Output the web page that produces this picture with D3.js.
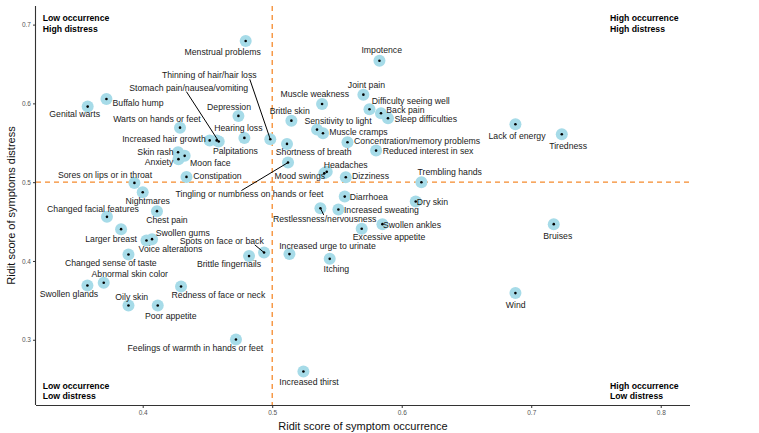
<!DOCTYPE html>
<html>
<head>
<meta charset="utf-8">
<script src="https://cdn.jsdelivr.net/npm/d3@7"></script>
<style>
  body { margin: 0; background: #fff; }
  svg { font-family: "Liberation Sans", Arial, sans-serif; }
</style>
</head>
<body>
<svg id="chart" width="759" height="433"></svg>
<script>
// symptom names, ridit occurrence (x) and ridit distress (y)
const symptoms = [
  "Menstrual problems", "Genital warts", "Buffalo hump", "Warts on hands or feet", "Depression",
  "Hearing loss", "Increased hair growth", "Stomach pain/nausea/vomiting", "Palpitations", "Thinning of hair/hair loss",
  "Skin rash", "Moon face", "Anxiety", "Constipation", "Sores on lips or in throat",
  "Nightmares", "Changed facial features", "Chest pain", "Larger breast", "Swollen gums",
  "Voice alterations", "Changed sense of taste", "Spots on face or back", "Brittle fingernails", "Abnormal skin color",
  "Swollen glands", "Redness of face or neck", "Oily skin", "Poor appetite", "Feelings of warmth in hands or feet",
  "Increased thirst", "Impotence", "Joint pain", "Muscle weakness", "Difficulty seeing well",
  "Back pain", "Sleep difficulties", "Brittle skin", "Sensitivity to light", "Muscle cramps",
  "Concentration/memory problems", "Reduced interest in sex", "Shortness of breath", "Tingling or numbness on hands or feet", "Mood swings",
  "Headaches", "Dizziness", "Trembling hands", "Diarrhoea", "Dry skin",
  "Restlessness/nervousness", "Increased sweating", "Swollen ankles", "Excessive appetite", "Increased urge to urinate",
  "Itching", "Lack of energy", "Tiredness", "Bruises", "Wind"
];
const occurrence = [
  0.4795, 0.3575, 0.372, 0.4288, 0.4739,
  0.4785, 0.4517, 0.4587, 0.4571, 0.4985,
  0.4273, 0.4324, 0.4276, 0.4338, 0.3936,
  0.400, 0.3724, 0.411, 0.3833, 0.4072,
  0.4029, 0.389, 0.4937, 0.4821, 0.3699,
  0.3573, 0.4296, 0.389, 0.4116, 0.472,
  0.5241, 0.5828, 0.5704, 0.5385, 0.5751,
  0.584, 0.5894, 0.5148, 0.5346, 0.5392,
  0.5581, 0.5802, 0.5114, 0.5122, 0.5402,
  0.5421, 0.5568, 0.6152, 0.556, 0.6108,
  0.5372, 0.5511, 0.5851, 0.5691, 0.5133,
  0.5444, 0.6878, 0.7236, 0.7174, 0.6878
];
const distress = [
  0.6792, 0.5959, 0.6056, 0.5692, 0.5841,
  0.5562, 0.553, 0.5517, 0.553, 0.5545,
  0.538, 0.5334, 0.5292, 0.5067, 0.4991,
  0.4873, 0.456, 0.4632, 0.4404, 0.4277,
  0.4259, 0.4082, 0.4107, 0.4062, 0.3723,
  0.3689, 0.3676, 0.3435, 0.3435, 0.3004,
  0.2598, 0.6542, 0.6111, 0.5993, 0.5926,
  0.5875, 0.5812, 0.5781, 0.5667, 0.5621,
  0.5507, 0.5401, 0.5486, 0.5249, 0.5112,
  0.5131, 0.5063, 0.500, 0.4817, 0.4754,
  0.467, 0.4653, 0.4467, 0.4408, 0.4087,
  0.4027, 0.5736, 0.5609, 0.4467, 0.3592
];
const xTicks = [0.4, 0.5, 0.6, 0.7, 0.8];
const yTicks = [0.3, 0.4, 0.5, 0.6, 0.7];
const cutoff = 0.5;

// label placement (pixel offsets from the point, like ggrepel did)
const labelOffset = {
  "Menstrual problems": [-23, 11], "Genital warts": [-13, 7.5], "Buffalo hump": [31.6, 4],
  "Warts on hands or feet": [-23, -8.7], "Depression": [-9.4, -9], "Hearing loss": [-6, -10],
  "Increased hair growth": [-45.7, -1], "Stomach pain/nausea/vomiting": [-30, -53],
  "Palpitations": [18.7, 11], "Thinning of hair/hair loss": [-61, -64.6],
  "Skin rash": [-22.6, 0], "Moon face": [25.7, 6.7], "Anxiety": [-19.4, 2.4],
  "Constipation": [31, -0.7], "Sores on lips or in throat": [-29.4, -8.3], "Nightmares": [5, 9],
  "Changed facial features": [-14, -8.3], "Chest pain": [10, 8.7], "Larger breast": [-10, 9.4],
  "Swollen gums": [30.7, -6.3], "Voice alterations": [24, 8.6], "Changed sense of taste": [-17.7, 8.6],
  "Spots on face or back": [-42.3, -11.4], "Brittle fingernails": [-20, 7.4],
  "Abnormal skin color": [26, -8.7], "Swollen glands": [-18.4, 8.6], "Redness of face or neck": [37.4, 8.6],
  "Oily skin": [3.3, -9], "Poor appetite": [13, 10], "Feelings of warmth in hands or feet": [-40.6, 8.3],
  "Increased thirst": [5.6, 11], "Impotence": [2.3, -10.4], "Joint pain": [3, -9.4],
  "Muscle weakness": [-7.3, -10.3], "Difficulty seeing well": [41.3, -8.4], "Back pain": [24.4, -3.6],
  "Sleep difficulties": [37.7, 0.7], "Brittle skin": [-1.7, -10], "Sensitivity to light": [21, -9],
  "Muscle cramps": [35.4, -1.6], "Concentration/memory problems": [69.6, -1.6],
  "Reduced interest in sex": [52, 0.6], "Shortness of breath": [26.7, 8],
  "Tingling or numbness on hands or feet": [-38.5, 31], "Mood swings": [-24.5, 3],
  "Headaches": [19, -7], "Dizziness": [24.7, -1.6], "Trembling hands": [28.3, -10.3],
  "Diarrhoea": [24, 0], "Dry skin": [16.7, 0], "Restlessness/nervousness": [4.3, 10.7],
  "Increased sweating": [43, 0.7], "Swollen ankles": [29.6, 0.4], "Excessive appetite": [27.3, 8],
  "Increased urge to urinate": [38, -8.3], "Itching": [6.7, 9.7], "Lack of energy": [1.6, 11.4],
  "Tiredness": [6.3, 11.4], "Bruises": [4, 11.4], "Wind": [0.3, 11.4]
};
// leader lines: label-side end, offset from the point
const segmentEnd = {
  "Stomach pain/nausea/vomiting": [-32.3, -49.8],
  "Thinning of hair/hair loss": [-20.5, -60],
  "Spots on face or back": [-9.3, -7.7],
  "Tingling or numbness on hands or feet": [-46.6, 28],
  "Restlessness/nervousness": [3.3, 6.7]
};

const data = symptoms.map((s, i) => ({ name: s, x: occurrence[i], y: distress[i] }));

const svg = d3.select("#chart");
const margin = { left: 36, right: 69, top: 6, bottom: 28 };
const width = 759, height = 433;

const x = d3.scaleLinear().domain([0.3176, 0.8226]).range([margin.left, width - margin.right]);
const y = d3.scaleLinear().domain([0.2172, 0.7236]).range([height - margin.bottom, margin.top]);

// axes
const xAxis = svg.append("g")
  .attr("transform", `translate(0,${height - margin.bottom})`)
  .call(d3.axisBottom(x).tickValues(xTicks).tickFormat(d3.format(".1f")).tickSize(3).tickPadding(2));
const yAxis = svg.append("g")
  .attr("transform", `translate(${margin.left},0)`)
  .call(d3.axisLeft(y).tickValues(yTicks).tickFormat(d3.format(".1f")).tickSize(3).tickPadding(2));
[xAxis, yAxis].forEach(a => {
  a.select(".domain").attr("stroke", "#333").attr("stroke-width", 1.1);
  a.selectAll(".tick line").attr("stroke", "#333");
  a.selectAll(".tick text").attr("fill", "#555").style("font-size", "6.5px");
});
xAxis.select(".domain").attr("d", `M${margin.left},0.5H${width - margin.right}`);
yAxis.select(".domain").attr("d", `M-0.5,${margin.top}V${height - margin.bottom}`);

// axis titles
svg.append("text")
  .attr("x", (margin.left + width - margin.right) / 2)
  .attr("y", 430)
  .attr("text-anchor", "middle")
  .style("font-size", "11px")
  .attr("fill", "#111")
  .text("Ridit score of symptom occurrence");
svg.append("text")
  .attr("transform", `translate(15,${(margin.top + height - margin.bottom) / 2}) rotate(-90)`)
  .attr("text-anchor", "middle")
  .style("font-size", "11px")
  .attr("fill", "#111")
  .text("Ridit score of symptoms distress");

// cutoff lines
const orange = "#f58a2c";
svg.append("line")
  .attr("x1", margin.left).attr("x2", width - margin.right)
  .attr("y1", y(cutoff)).attr("y2", y(cutoff))
  .attr("stroke", orange).attr("stroke-width", 1.3).attr("stroke-dasharray", "5,4");
svg.append("line")
  .attr("x1", x(cutoff)).attr("x2", x(cutoff))
  .attr("y1", margin.top).attr("y2", height - margin.bottom)
  .attr("stroke", orange).attr("stroke-width", 1.3).attr("stroke-dasharray", "5,4");

// quadrant captions
const quads = [
  { lines: ["Low occurrence", "High distress"], x: margin.left + 6.7, y: 21.4 },
  { lines: ["High occurrence", "High distress"], x: 610, y: 21.4 },
  { lines: ["Low occurrence", "Low distress"], x: margin.left + 6.7, y: 388.8 },
  { lines: ["High occurrence", "Low distress"], x: 610, y: 388.8 }
];
quads.forEach(q => {
  const t = svg.append("text")
    .attr("x", q.x).attr("y", q.y)
    .style("font-size", "8.7px").style("font-weight", "bold").attr("fill", "#000");
  q.lines.forEach((l, i) => t.append("tspan").attr("x", q.x).attr("dy", i ? 10.5 : 0).text(l));
});

// points
svg.append("g").selectAll("circle")
  .data(data).join("circle")
  .attr("cx", d => x(d.x)).attr("cy", d => y(d.y))
  .attr("r", 6).attr("fill", "#a6dbe8");
svg.append("g").selectAll("circle")
  .data(data).join("circle")
  .attr("cx", d => x(d.x)).attr("cy", d => y(d.y))
  .attr("r", 1.3).attr("fill", "#000");

// leader segments
svg.append("g").selectAll("line")
  .data(data.filter(d => segmentEnd[d.name])).join("line")
  .attr("x1", d => x(d.x)).attr("y1", d => y(d.y))
  .attr("x2", d => x(d.x) + segmentEnd[d.name][0])
  .attr("y2", d => y(d.y) + segmentEnd[d.name][1])
  .attr("stroke", "#000").attr("stroke-width", 1);

// labels
svg.append("g").selectAll("text")
  .data(data).join("text")
  .attr("x", d => x(d.x) + labelOffset[d.name][0])
  .attr("y", d => y(d.y) + labelOffset[d.name][1])
  .attr("dy", "0.35em")
  .attr("text-anchor", "middle")
  .style("font-size", "8.7px")
  .attr("fill", "#1a1a1a")
  .text(d => d.name);
</script>
</body>
</html>
